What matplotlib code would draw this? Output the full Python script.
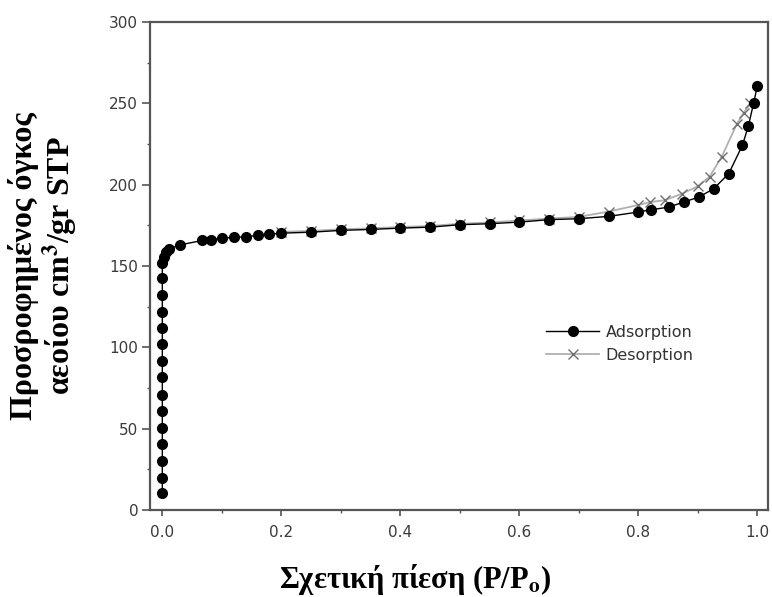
import numpy as np
import matplotlib
matplotlib.use("Agg")
import matplotlib.pyplot as plt
from matplotlib.ticker import MultipleLocator

# adsorption branch (P/Po, cm3/g STP)
ads_x = [0.0, 0.0, 0.0, 0.0, 0.0, 0.0, 0.0, 0.0, 0.0, 0.0, 0.0, 0.0, 0.0, 0.0, 0.0,
         0.002, 0.006, 0.011, 0.03, 0.067, 0.081, 0.1, 0.12, 0.14, 0.16, 0.18,
         0.2, 0.25, 0.3, 0.35, 0.4, 0.45, 0.5, 0.55, 0.6, 0.65, 0.7, 0.75,
         0.8, 0.822, 0.851, 0.876, 0.902, 0.927, 0.952, 0.975, 0.985, 0.994, 1.0]
ads_y = [10.7, 19.9, 30.2, 40.7, 50.7, 61, 71, 81.5, 91.8, 102, 112, 122, 132, 142.7, 152,
         155.5, 158.5, 160.5, 163, 165.7, 166.1, 167.1, 167.6, 168, 168.8, 169.4,
         170.2, 170.8, 171.9, 172.5, 173.3, 173.9, 175.4, 176, 177, 178.5, 179.1, 180.5,
         183.2, 184.6, 186.2, 189.3, 192.4, 197.6, 206.8, 224.2, 236, 250.4, 260.6]

# desorption branch
des_x = [0.2, 0.25, 0.3, 0.35, 0.4, 0.45, 0.5, 0.55, 0.6, 0.65, 0.7, 0.75,
         0.8, 0.82, 0.845, 0.873, 0.9, 0.92, 0.94, 0.966, 0.977, 0.988]
des_y = [171, 171.6, 172.6, 173.2, 174, 174.6, 176, 176.8, 178, 179.2, 180.2, 183.5,
         187.5, 189.3, 190.5, 194.4, 199, 205, 217, 237.6, 244, 250]

plt.rcParams['mathtext.fontset'] = 'stix'

fig = plt.figure(figsize=(7.72, 5.97), dpi=100)
ax = fig.add_axes([0.1943, 0.1457, 0.8005, 0.8174])

ax.plot(des_x, des_y, color='#b0b0b0', lw=1.3, marker='x', ms=6.5, mew=1.0,
        mec='#707070', label='Desorption', zorder=2)
ax.plot(ads_x, ads_y, color='black', lw=1.0, marker='o', ms=7,
        mfc='black', mec='black', label='Adsorption', zorder=3)

ax.set_xlim(-0.0207, 1.018)
ax.set_ylim(0, 300)
ax.xaxis.set_major_locator(MultipleLocator(0.2))
ax.xaxis.set_minor_locator(MultipleLocator(0.1))
ax.yaxis.set_major_locator(MultipleLocator(50))
ax.yaxis.set_minor_locator(MultipleLocator(25))
ax.xaxis.set_major_formatter(matplotlib.ticker.FormatStrFormatter('%.1f'))

for s in ax.spines.values():
    s.set_color('#555555')
    s.set_linewidth(1.6)
ax.tick_params(which='major', direction='out', width=1.2,
               color='#555555', labelcolor='#3a3a3a', labelsize=11)
ax.tick_params(axis='y', which='major', length=5.5, pad=3)
ax.tick_params(axis='x', which='major', length=4.5, pad=6)
ax.tick_params(which='minor', direction='out', length=2.5, width=1.0, color='#555555')
for lab in ax.get_xticklabels() + ax.get_yticklabels():
    lab.set_family('DejaVu Sans')

handles, labels = ax.get_legend_handles_labels()
leg = ax.legend(handles[::-1], labels[::-1], loc='center left',
                bbox_to_anchor=(0.618, 0.341), frameon=False,
                handlelength=3.3, handletextpad=0.4, labelspacing=0.5,
                prop={'family': 'DejaVu Sans', 'size': 11.5})
for t in leg.get_texts():
    t.set_color('#333333')

ax.set_ylabel('Προσροφημένος όγκος\nαεοίου cm$^{\\mathbf{3}}$/gr STP',
              family='Liberation Serif', fontweight='bold', fontsize=23,
              linespacing=1.05)
ax.yaxis.set_label_coords(-0.113, 0.5)
ax.set_xlabel('Σχετική πίεση (P/P$_{\\mathbf{o}}$)', family='Liberation Serif',
              fontweight='bold', fontsize=22)
ax.xaxis.set_label_coords(0.429, -0.106)

fig.savefig('out.png', dpi=100)
